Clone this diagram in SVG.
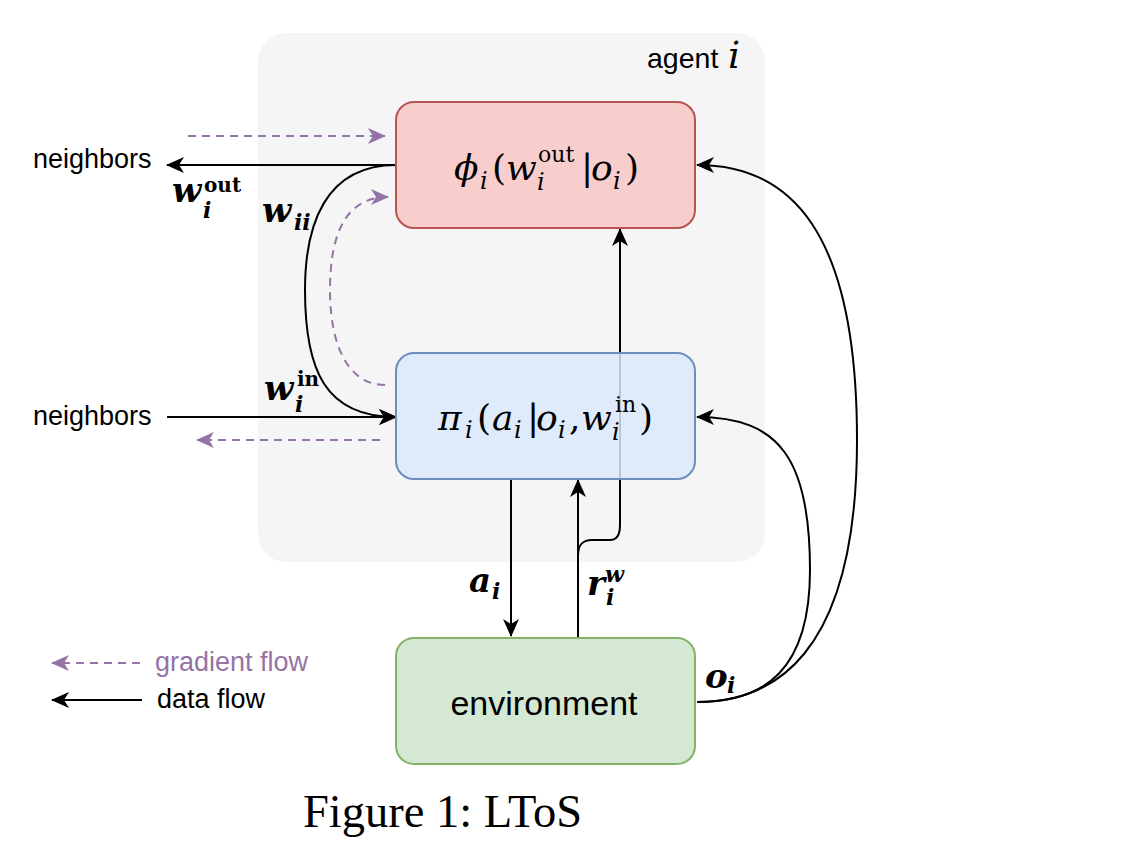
<svg xmlns="http://www.w3.org/2000/svg" width="1126" height="862" viewBox="0 0 1126 862">
<defs>
<marker id="ab" markerUnits="userSpaceOnUse" markerWidth="18" markerHeight="16" viewBox="0 0 18 16" refX="17" refY="8" orient="auto"><path d="M0,0 L18,8 L0,16 L5,8 Z" fill="#000"/></marker>
<marker id="ap" markerUnits="userSpaceOnUse" markerWidth="18" markerHeight="16" viewBox="0 0 18 16" refX="17" refY="8" orient="auto"><path d="M0,0 L18,8 L0,16 L5,8 Z" fill="#9673a6"/></marker>
</defs>
<style>
.d{fill:none;stroke:#000;stroke-width:2;marker-end:url(#ab)}
.g{fill:none;stroke:#9673a6;stroke-width:2;stroke-dasharray:8 6;marker-end:url(#ap)}
.s{font-family:"Liberation Sans",Arial,sans-serif;font-size:27px;fill:#000}
.m{font-family:"DejaVu Serif","Liberation Serif",serif;font-style:italic;font-size:36px;fill:#000}
.mb{font-family:"DejaVu Serif","Liberation Serif",serif;font-style:italic;font-weight:bold;font-size:34px;fill:#000}
.up{font-style:normal}
.sm{font-size:24px}
.sp{font-size:22px}
.sb{font-size:22px}
.sbu{font-size:20px}
</style>
<rect width="1126" height="862" fill="#fff"/>
<g id="agent">
<rect x="258" y="33" width="507" height="529" rx="28" fill="#f5f5f5"/>
<text class="s" x="647" y="68" style="font-size:28.5px">agent</text>
<text class="m" x="728" y="68" style="font-size:38px">i</text>
</g>
<g id="connectors">
<path class="g" d="M188,136 L385,136"/>
<path class="d" d="M396,165 L167,165"/>
<path class="d" d="M396,165 C325,165 305,225 305,290 C305,370 325,417 396,417"/>
<path class="g" d="M385,385 C348,385 330,345 330,290 C330,230 348,197 388,197"/>
<path class="d" d="M167,417 L396,417"/>
<path class="g" d="M380,440 L197,440"/>
<path class="d" d="M511,479 L511,636"/>
<path class="d" d="M578,638 L578,480"/>
<path class="d" d="M578,556 C578,545 582,540 592,540 L610,540 C617,540 620,535 620,525 L620,229"/>
<path class="d" d="M697,702 C770,702 857,660 857,440 C857,230 790,165 697,165"/>
<path class="d" d="M697,702 C765,702 810,670 810,570 C810,460 780,417 697,417"/>
<path class="g" d="M140,663 L52,663"/>
<path class="d" d="M142,700 L52,700"/>
<text class="s" x="33" y="168">neighbors</text>
<text class="s" x="33" y="425">neighbors</text>
<text class="mb"><tspan x="172" y="202">w</tspan><tspan class="sb" x="203" y="218">i</tspan><tspan class="sbu up" x="204" y="192">out</tspan></text>
<text class="mb"><tspan x="262" y="222">w</tspan><tspan class="sb" x="294" y="230">ii</tspan></text>
<text class="mb"><tspan x="264" y="400">w</tspan><tspan class="sb" x="295" y="412">i</tspan><tspan class="sbu up" x="297" y="386">in</tspan></text>
<text class="mb"><tspan x="469" y="592">a</tspan><tspan class="sb" x="492" y="599">i</tspan></text>
<text class="mb"><tspan x="587" y="595">r</tspan><tspan class="sb" x="605" y="582">w</tspan><tspan class="sb" x="606" y="605">i</tspan></text>
<text class="mb"><tspan x="705" y="688">o</tspan><tspan class="sb" x="727" y="693">i</tspan></text>
<text class="s" x="155" y="671" style="fill:#9673a6">gradient flow</text>
<text class="s" x="157" y="708">data flow</text>
</g>
<g id="phi">
<rect x="396" y="102" width="299" height="126" rx="18" fill="#f8cecc" stroke="#b85450" stroke-width="2"/>
<text class="m"><tspan x="454" y="180">ϕ</tspan><tspan class="sm" x="480" y="189">i</tspan><tspan class="up" x="492" y="180">(</tspan><tspan x="506" y="180">w</tspan><tspan class="sm" x="537" y="190">i</tspan><tspan class="sp up" x="538" y="162">out</tspan><tspan class="up" x="581" y="180">|</tspan><tspan x="591" y="180">o</tspan><tspan class="sm" x="613" y="189">i</tspan><tspan class="up" x="625" y="180">)</tspan></text>
</g>
<g id="pi">
<rect x="396" y="353" width="299" height="126" rx="18" fill="#dae8fc" fill-opacity="0.85" stroke="#6c8ebf" stroke-width="2"/>
<text class="m"><tspan x="438" y="430">π</tspan><tspan class="sm" x="465" y="438">i</tspan><tspan class="up" x="477" y="430">(</tspan><tspan x="492" y="430">a</tspan><tspan class="sm" x="514" y="438">i</tspan><tspan class="up" x="527" y="430">|</tspan><tspan x="536" y="430">o</tspan><tspan class="sm" x="558" y="438">i</tspan><tspan class="up" x="569" y="430">,</tspan><tspan x="581" y="430">w</tspan><tspan class="sm" x="612" y="440">i</tspan><tspan class="sp up" x="615" y="412">in</tspan><tspan class="up" x="639" y="430">)</tspan></text>
</g>
<g id="environment">
<rect x="396" y="638" width="299" height="126" rx="18" fill="#d5e8d4" stroke="#82b366" stroke-width="2"/>
<text class="s" x="544" y="715" text-anchor="middle" style="font-size:34px">environment</text>
</g>
<text x="303" y="827" font-family="Liberation Serif, serif" font-size="46.5">Figure 1: LToS</text>
</svg>
